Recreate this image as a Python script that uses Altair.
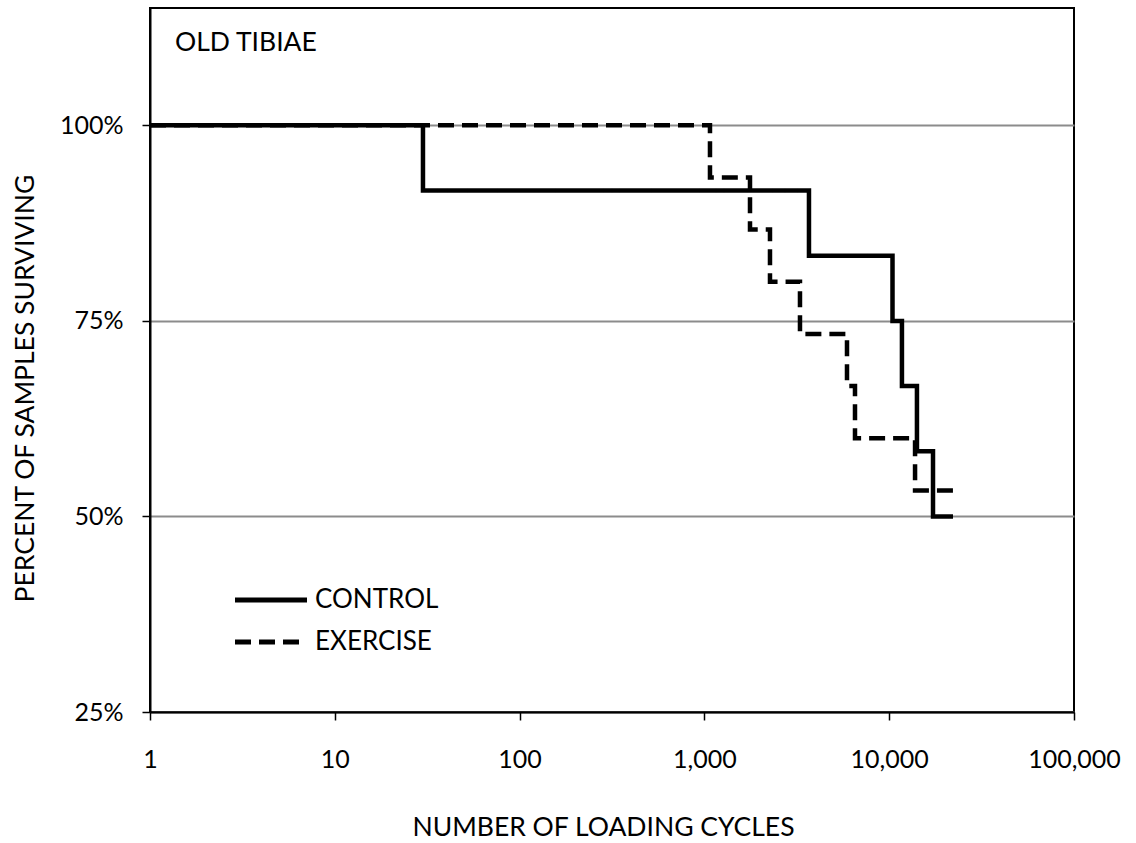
import altair as alt
import pandas as pd

# Kaplan-Meier style survival steps
control_cycles = [1, 30, 3680, 10420, 11720, 14130, 17260, 22140]
control_surv = [1.0, 0.9167, 0.8333, 0.75, 0.6667, 0.5833, 0.5, 0.5]
exercise_cycles = [1, 1072, 1765, 2264, 3290, 5910, 6530, 13800, 22140]
exercise_surv = [1.0, 0.9333, 0.8667, 0.8, 0.7333, 0.6667, 0.6, 0.5333, 0.5333]

groups = ["CONTROL", "EXERCISE"]
x_ticks = [1, 10, 100, 1000, 10000, 100000]
y_ticks = [0.25, 0.5, 0.75, 1.0]
panel_label = "OLD TIBIAE"

df = pd.concat([
    pd.DataFrame({"cycles": control_cycles, "surv": control_surv, "group": groups[0], "order": range(len(control_cycles))}),
    pd.DataFrame({"cycles": exercise_cycles, "surv": exercise_surv, "group": groups[1], "order": range(len(exercise_cycles))}),
])

FONT = "Lato"

lines = alt.Chart(df).mark_line(
    interpolate="step-after", color="black", strokeWidth=4.5, strokeCap="butt"
).encode(
    x=alt.X("cycles:Q",
            scale=alt.Scale(type="log", domain=[1, 100000]),
            axis=alt.Axis(values=x_ticks, format=",", grid=False, labelPadding=27,
                          titleX=453, titleY=102, titleFontSize=26.5,
                          labelFlush=False, labelOverlap=False),
            title="NUMBER OF LOADING CYCLES"),
    y=alt.Y("surv:Q",
            scale=alt.Scale(domain=[0.25, 1.15], nice=False, zero=False),
            axis=alt.Axis(values=y_ticks, format=".0%", grid=True, gridColor="#8c8c8c",
                          gridWidth=2, labelPadding=19, titleX=-111, titleY=380,
                          titleFontSize=26.5),
            title="PERCENT OF SAMPLES SURVIVING"),
    strokeDash=alt.StrokeDash("group:N",
                              scale=alt.Scale(domain=groups, range=[[1, 0], [16, 8]]),
                              legend=alt.Legend(orient="none", legendX=108, legendY=579,
                                                title=None, symbolType="M-4,0H4", symbolSize=324,
                                                symbolStrokeWidth=5, symbolStrokeColor="black",
                                                labelOffset=31, labelFont=FONT, labelFontSize=26,
                                                labelColor="black", rowPadding=16, padding=0)),
    order="order:Q",
)

label = alt.Chart(pd.DataFrame({"t": [panel_label]})).mark_text(
    align="left", baseline="top", font=FONT, fontSize=26.5, color="black"
).encode(x=alt.value(25), y=alt.value(22), text="t:N")

chart = alt.layer(lines, label).properties(
    width=924, height=704,
    padding={"left": 150, "top": 8, "right": 62, "bottom": 131},
    autosize=alt.AutoSizeParams(type="none"),
    background="white",
).configure_view(
    stroke="black", strokeWidth=2
).configure_axis(
    labelFont=FONT, labelFontSize=25, labelColor="black",
    titleFont=FONT, titleFontSize=26.5, titleFontWeight="normal", titleColor="black",
    tickColor="black", tickWidth=1.5, tickSize=8,
    domainColor="black", domainWidth=2,
)

chart.save("out.html", embed_options={"renderer": "svg", "actions": False})
